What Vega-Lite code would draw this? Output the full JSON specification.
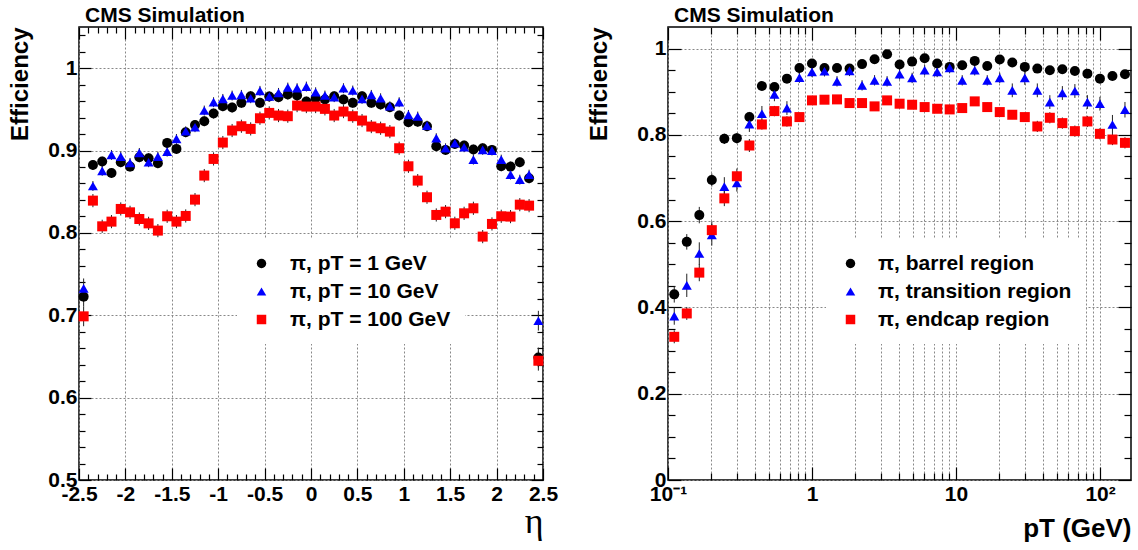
{
"$schema": "https://vega.github.io/schema/vega-lite/v6.json",
"padding": {"left": 8, "top": 4, "right": 5, "bottom": 5},
"background": "white",
"spacing": 125,
"bounds": "flush",
"resolve": {"scale": {"color": "independent", "shape": "independent"}, "legend": {"color": "independent", "shape": "independent"}},
"config": {
  "font": "Liberation Sans",
  "view": {"stroke": "black", "strokeWidth": 1.5},
  "axis": {"labelFont": "Liberation Sans", "labelFontWeight": "bold", "labelFontSize": 21, "labelColor": "black", "titleColor": "black", "domain": false, "gridColor": "#888", "gridDash": [2, 2], "gridWidth": 1, "gridOpacity": 1, "tickColor": "black", "tickWidth": 1.2, "labelOverlap": false, "labelFlush": false},
  "legend": {"labelFont": "Liberation Sans", "labelFontWeight": "bold", "labelFontSize": 21, "labelColor": "black", "labelLimit": 400}
},
"datasets": {
"eta": [
{"series":"π, pT = 1 GeV","eta":-2.45,"eff":0.7226,"err":0.012},
{"series":"π, pT = 1 GeV","eta":-2.35,"eff":0.8825,"err":0.006},
{"series":"π, pT = 1 GeV","eta":-2.25,"eff":0.8866,"err":0.006},
{"series":"π, pT = 1 GeV","eta":-2.15,"eff":0.8728,"err":0.006},
{"series":"π, pT = 1 GeV","eta":-2.05,"eff":0.8858,"err":0.006},
{"series":"π, pT = 1 GeV","eta":-1.95,"eff":0.8805,"err":0.006},
{"series":"π, pT = 1 GeV","eta":-1.85,"eff":0.8919,"err":0.006},
{"series":"π, pT = 1 GeV","eta":-1.75,"eff":0.8907,"err":0.006},
{"series":"π, pT = 1 GeV","eta":-1.65,"eff":0.8846,"err":0.006},
{"series":"π, pT = 1 GeV","eta":-1.55,"eff":0.9093,"err":0.006},
{"series":"π, pT = 1 GeV","eta":-1.45,"eff":0.902,"err":0.006},
{"series":"π, pT = 1 GeV","eta":-1.35,"eff":0.9222,"err":0.006},
{"series":"π, pT = 1 GeV","eta":-1.25,"eff":0.9311,"err":0.006},
{"series":"π, pT = 1 GeV","eta":-1.15,"eff":0.9356,"err":0.006},
{"series":"π, pT = 1 GeV","eta":-1.05,"eff":0.9449,"err":0.006},
{"series":"π, pT = 1 GeV","eta":-0.95,"eff":0.9538,"err":0.006},
{"series":"π, pT = 1 GeV","eta":-0.85,"eff":0.9522,"err":0.006},
{"series":"π, pT = 1 GeV","eta":-0.75,"eff":0.9579,"err":0.006},
{"series":"π, pT = 1 GeV","eta":-0.65,"eff":0.966,"err":0.006},
{"series":"π, pT = 1 GeV","eta":-0.55,"eff":0.9579,"err":0.006},
{"series":"π, pT = 1 GeV","eta":-0.45,"eff":0.9656,"err":0.006},
{"series":"π, pT = 1 GeV","eta":-0.35,"eff":0.9648,"err":0.006},
{"series":"π, pT = 1 GeV","eta":-0.25,"eff":0.968,"err":0.006},
{"series":"π, pT = 1 GeV","eta":-0.15,"eff":0.9668,"err":0.006},
{"series":"π, pT = 1 GeV","eta":-0.05,"eff":0.9595,"err":0.006},
{"series":"π, pT = 1 GeV","eta":0.05,"eff":0.9635,"err":0.006},
{"series":"π, pT = 1 GeV","eta":0.15,"eff":0.9619,"err":0.006},
{"series":"π, pT = 1 GeV","eta":0.25,"eff":0.966,"err":0.006},
{"series":"π, pT = 1 GeV","eta":0.35,"eff":0.9619,"err":0.006},
{"series":"π, pT = 1 GeV","eta":0.45,"eff":0.9579,"err":0.006},
{"series":"π, pT = 1 GeV","eta":0.55,"eff":0.966,"err":0.006},
{"series":"π, pT = 1 GeV","eta":0.65,"eff":0.9579,"err":0.006},
{"series":"π, pT = 1 GeV","eta":0.75,"eff":0.9559,"err":0.006},
{"series":"π, pT = 1 GeV","eta":0.85,"eff":0.9526,"err":0.006},
{"series":"π, pT = 1 GeV","eta":0.95,"eff":0.9425,"err":0.006},
{"series":"π, pT = 1 GeV","eta":1.05,"eff":0.9344,"err":0.006},
{"series":"π, pT = 1 GeV","eta":1.15,"eff":0.935,"err":0.006},
{"series":"π, pT = 1 GeV","eta":1.25,"eff":0.9295,"err":0.006},
{"series":"π, pT = 1 GeV","eta":1.35,"eff":0.9052,"err":0.006},
{"series":"π, pT = 1 GeV","eta":1.45,"eff":0.9008,"err":0.006},
{"series":"π, pT = 1 GeV","eta":1.55,"eff":0.908,"err":0.006},
{"series":"π, pT = 1 GeV","eta":1.65,"eff":0.906,"err":0.006},
{"series":"π, pT = 1 GeV","eta":1.75,"eff":0.9012,"err":0.006},
{"series":"π, pT = 1 GeV","eta":1.85,"eff":0.9028,"err":0.006},
{"series":"π, pT = 1 GeV","eta":1.95,"eff":0.9008,"err":0.006},
{"series":"π, pT = 1 GeV","eta":2.05,"eff":0.8809,"err":0.006},
{"series":"π, pT = 1 GeV","eta":2.15,"eff":0.8805,"err":0.006},
{"series":"π, pT = 1 GeV","eta":2.25,"eff":0.8858,"err":0.006},
{"series":"π, pT = 1 GeV","eta":2.35,"eff":0.8663,"err":0.006},
{"series":"π, pT = 1 GeV","eta":2.45,"eff":0.6488,"err":0.012},
{"series":"π, pT = 10 GeV","eta":-2.45,"eff":0.7327,"err":0.012},
{"series":"π, pT = 10 GeV","eta":-2.35,"eff":0.857,"err":0.006},
{"series":"π, pT = 10 GeV","eta":-2.25,"eff":0.8753,"err":0.006},
{"series":"π, pT = 10 GeV","eta":-2.15,"eff":0.8947,"err":0.006},
{"series":"π, pT = 10 GeV","eta":-2.05,"eff":0.8927,"err":0.006},
{"series":"π, pT = 10 GeV","eta":-1.95,"eff":0.885,"err":0.006},
{"series":"π, pT = 10 GeV","eta":-1.85,"eff":0.8971,"err":0.006},
{"series":"π, pT = 10 GeV","eta":-1.75,"eff":0.8858,"err":0.006},
{"series":"π, pT = 10 GeV","eta":-1.65,"eff":0.8927,"err":0.006},
{"series":"π, pT = 10 GeV","eta":-1.55,"eff":0.8987,"err":0.006},
{"series":"π, pT = 10 GeV","eta":-1.45,"eff":0.9141,"err":0.006},
{"series":"π, pT = 10 GeV","eta":-1.35,"eff":0.9234,"err":0.006},
{"series":"π, pT = 10 GeV","eta":-1.25,"eff":0.9283,"err":0.006},
{"series":"π, pT = 10 GeV","eta":-1.15,"eff":0.9486,"err":0.006},
{"series":"π, pT = 10 GeV","eta":-1.05,"eff":0.9587,"err":0.006},
{"series":"π, pT = 10 GeV","eta":-0.95,"eff":0.9627,"err":0.006},
{"series":"π, pT = 10 GeV","eta":-0.85,"eff":0.9668,"err":0.006},
{"series":"π, pT = 10 GeV","eta":-0.75,"eff":0.9676,"err":0.006},
{"series":"π, pT = 10 GeV","eta":-0.65,"eff":0.9635,"err":0.006},
{"series":"π, pT = 10 GeV","eta":-0.55,"eff":0.9725,"err":0.006},
{"series":"π, pT = 10 GeV","eta":-0.45,"eff":0.9656,"err":0.006},
{"series":"π, pT = 10 GeV","eta":-0.35,"eff":0.970,"err":0.006},
{"series":"π, pT = 10 GeV","eta":-0.25,"eff":0.9765,"err":0.006},
{"series":"π, pT = 10 GeV","eta":-0.15,"eff":0.9757,"err":0.006},
{"series":"π, pT = 10 GeV","eta":-0.05,"eff":0.9777,"err":0.006},
{"series":"π, pT = 10 GeV","eta":0.05,"eff":0.9708,"err":0.006},
{"series":"π, pT = 10 GeV","eta":0.15,"eff":0.9668,"err":0.006},
{"series":"π, pT = 10 GeV","eta":0.25,"eff":0.9648,"err":0.006},
{"series":"π, pT = 10 GeV","eta":0.35,"eff":0.9757,"err":0.006},
{"series":"π, pT = 10 GeV","eta":0.45,"eff":0.9729,"err":0.006},
{"series":"π, pT = 10 GeV","eta":0.55,"eff":0.9627,"err":0.006},
{"series":"π, pT = 10 GeV","eta":0.65,"eff":0.9676,"err":0.006},
{"series":"π, pT = 10 GeV","eta":0.75,"eff":0.9635,"err":0.006},
{"series":"π, pT = 10 GeV","eta":0.85,"eff":0.9538,"err":0.006},
{"series":"π, pT = 10 GeV","eta":0.95,"eff":0.9587,"err":0.006},
{"series":"π, pT = 10 GeV","eta":1.05,"eff":0.9433,"err":0.006},
{"series":"π, pT = 10 GeV","eta":1.15,"eff":0.9413,"err":0.006},
{"series":"π, pT = 10 GeV","eta":1.25,"eff":0.9303,"err":0.006},
{"series":"π, pT = 10 GeV","eta":1.35,"eff":0.915,"err":0.006},
{"series":"π, pT = 10 GeV","eta":1.45,"eff":0.9028,"err":0.006},
{"series":"π, pT = 10 GeV","eta":1.55,"eff":0.9089,"err":0.006},
{"series":"π, pT = 10 GeV","eta":1.65,"eff":0.904,"err":0.006},
{"series":"π, pT = 10 GeV","eta":1.75,"eff":0.889,"err":0.006},
{"series":"π, pT = 10 GeV","eta":1.85,"eff":0.9008,"err":0.006},
{"series":"π, pT = 10 GeV","eta":1.95,"eff":0.9,"err":0.006},
{"series":"π, pT = 10 GeV","eta":2.05,"eff":0.889,"err":0.006},
{"series":"π, pT = 10 GeV","eta":2.15,"eff":0.8708,"err":0.006},
{"series":"π, pT = 10 GeV","eta":2.25,"eff":0.8647,"err":0.006},
{"series":"π, pT = 10 GeV","eta":2.35,"eff":0.8708,"err":0.006},
{"series":"π, pT = 10 GeV","eta":2.45,"eff":0.6934,"err":0.012},
{"series":"π, pT = 100 GeV","eta":-2.45,"eff":0.6987,"err":0.012},
{"series":"π, pT = 100 GeV","eta":-2.35,"eff":0.8392,"err":0.008},
{"series":"π, pT = 100 GeV","eta":-2.25,"eff":0.808,"err":0.008},
{"series":"π, pT = 100 GeV","eta":-2.15,"eff":0.8137,"err":0.008},
{"series":"π, pT = 100 GeV","eta":-2.05,"eff":0.8291,"err":0.008},
{"series":"π, pT = 100 GeV","eta":-1.95,"eff":0.825,"err":0.008},
{"series":"π, pT = 100 GeV","eta":-1.85,"eff":0.8169,"err":0.008},
{"series":"π, pT = 100 GeV","eta":-1.75,"eff":0.8116,"err":0.008},
{"series":"π, pT = 100 GeV","eta":-1.65,"eff":0.8028,"err":0.008},
{"series":"π, pT = 100 GeV","eta":-1.55,"eff":0.8202,"err":0.008},
{"series":"π, pT = 100 GeV","eta":-1.45,"eff":0.8137,"err":0.008},
{"series":"π, pT = 100 GeV","eta":-1.35,"eff":0.8206,"err":0.008},
{"series":"π, pT = 100 GeV","eta":-1.25,"eff":0.8404,"err":0.008},
{"series":"π, pT = 100 GeV","eta":-1.15,"eff":0.8696,"err":0.008},
{"series":"π, pT = 100 GeV","eta":-1.05,"eff":0.8898,"err":0.008},
{"series":"π, pT = 100 GeV","eta":-0.95,"eff":0.9097,"err":0.008},
{"series":"π, pT = 100 GeV","eta":-0.85,"eff":0.9243,"err":0.008},
{"series":"π, pT = 100 GeV","eta":-0.75,"eff":0.9295,"err":0.008},
{"series":"π, pT = 100 GeV","eta":-0.65,"eff":0.9263,"err":0.008},
{"series":"π, pT = 100 GeV","eta":-0.55,"eff":0.9392,"err":0.008},
{"series":"π, pT = 100 GeV","eta":-0.45,"eff":0.9457,"err":0.008},
{"series":"π, pT = 100 GeV","eta":-0.35,"eff":0.9425,"err":0.008},
{"series":"π, pT = 100 GeV","eta":-0.25,"eff":0.9417,"err":0.008},
{"series":"π, pT = 100 GeV","eta":-0.15,"eff":0.9546,"err":0.008},
{"series":"π, pT = 100 GeV","eta":-0.05,"eff":0.9534,"err":0.008},
{"series":"π, pT = 100 GeV","eta":0.05,"eff":0.9534,"err":0.008},
{"series":"π, pT = 100 GeV","eta":0.15,"eff":0.9506,"err":0.008},
{"series":"π, pT = 100 GeV","eta":0.25,"eff":0.9425,"err":0.008},
{"series":"π, pT = 100 GeV","eta":0.35,"eff":0.9473,"err":0.008},
{"series":"π, pT = 100 GeV","eta":0.45,"eff":0.9417,"err":0.008},
{"series":"π, pT = 100 GeV","eta":0.55,"eff":0.9364,"err":0.008},
{"series":"π, pT = 100 GeV","eta":0.65,"eff":0.9291,"err":0.008},
{"series":"π, pT = 100 GeV","eta":0.75,"eff":0.9271,"err":0.008},
{"series":"π, pT = 100 GeV","eta":0.85,"eff":0.923,"err":0.008},
{"series":"π, pT = 100 GeV","eta":0.95,"eff":0.9028,"err":0.008},
{"series":"π, pT = 100 GeV","eta":1.05,"eff":0.8809,"err":0.008},
{"series":"π, pT = 100 GeV","eta":1.15,"eff":0.8635,"err":0.008},
{"series":"π, pT = 100 GeV","eta":1.25,"eff":0.8433,"err":0.008},
{"series":"π, pT = 100 GeV","eta":1.35,"eff":0.8218,"err":0.008},
{"series":"π, pT = 100 GeV","eta":1.45,"eff":0.8258,"err":0.008},
{"series":"π, pT = 100 GeV","eta":1.55,"eff":0.8117,"err":0.008},
{"series":"π, pT = 100 GeV","eta":1.65,"eff":0.8238,"err":0.008},
{"series":"π, pT = 100 GeV","eta":1.75,"eff":0.8299,"err":0.008},
{"series":"π, pT = 100 GeV","eta":1.85,"eff":0.7955,"err":0.008},
{"series":"π, pT = 100 GeV","eta":1.95,"eff":0.8109,"err":0.008},
{"series":"π, pT = 100 GeV","eta":2.05,"eff":0.8202,"err":0.008},
{"series":"π, pT = 100 GeV","eta":2.15,"eff":0.8198,"err":0.008},
{"series":"π, pT = 100 GeV","eta":2.25,"eff":0.8343,"err":0.008},
{"series":"π, pT = 100 GeV","eta":2.35,"eff":0.8331,"err":0.008},
{"series":"π, pT = 100 GeV","eta":2.45,"eff":0.6448,"err":0.012}
],
"pt": [
{"series":"π, barrel region","pt":0.11052,"eff":0.4303,"err":0.019},
{"series":"π, barrel region","pt":0.13501,"eff":0.552,"err":0.018},
{"series":"π, barrel region","pt":0.16493,"eff":0.614,"err":0.019},
{"series":"π, barrel region","pt":0.20148,"eff":0.6954,"err":0.015},
{"series":"π, barrel region","pt":0.24613,"eff":0.7908,"err":0.012},
{"series":"π, barrel region","pt":0.30067,"eff":0.7924,"err":0.012},
{"series":"π, barrel region","pt":0.3673,"eff":0.8412,"err":0.012},
{"series":"π, barrel region","pt":0.44869,"eff":0.9133,"err":0.008},
{"series":"π, barrel region","pt":0.54812,"eff":0.9109,"err":0.008},
{"series":"π, barrel region","pt":0.66958,"eff":0.9303,"err":0.008},
{"series":"π, barrel region","pt":0.81796,"eff":0.9551,"err":0.008},
{"series":"π, barrel region","pt":0.99922,"eff":0.9652,"err":0.008},
{"series":"π, barrel region","pt":1.2206,"eff":0.9551,"err":0.008},
{"series":"π, barrel region","pt":1.4911,"eff":0.9551,"err":0.008},
{"series":"π, barrel region","pt":1.8216,"eff":0.9536,"err":0.008},
{"series":"π, barrel region","pt":2.2252,"eff":0.964,"err":0.008},
{"series":"π, barrel region","pt":2.7184,"eff":0.9753,"err":0.008},
{"series":"π, barrel region","pt":3.3208,"eff":0.9869,"err":0.008},
{"series":"π, barrel region","pt":4.0566,"eff":0.9629,"err":0.008},
{"series":"π, barrel region","pt":4.9556,"eff":0.9698,"err":0.008},
{"series":"π, barrel region","pt":6.0538,"eff":0.9775,"err":0.008},
{"series":"π, barrel region","pt":7.3953,"eff":0.9652,"err":0.008},
{"series":"π, barrel region","pt":9.0341,"eff":0.9575,"err":0.008},
{"series":"π, barrel region","pt":11.036,"eff":0.9613,"err":0.008},
{"series":"π, barrel region","pt":13.482,"eff":0.9714,"err":0.008},
{"series":"π, barrel region","pt":16.469,"eff":0.9598,"err":0.008},
{"series":"π, barrel region","pt":20.119,"eff":0.9745,"err":0.008},
{"series":"π, barrel region","pt":24.577,"eff":0.9676,"err":0.008},
{"series":"π, barrel region","pt":30.023,"eff":0.9575,"err":0.008},
{"series":"π, barrel region","pt":36.677,"eff":0.9536,"err":0.008},
{"series":"π, barrel region","pt":44.804,"eff":0.9497,"err":0.008},
{"series":"π, barrel region","pt":54.733,"eff":0.952,"err":0.008},
{"series":"π, barrel region","pt":66.861,"eff":0.9482,"err":0.008},
{"series":"π, barrel region","pt":81.678,"eff":0.9419,"err":0.01},
{"series":"π, barrel region","pt":99.778,"eff":0.9303,"err":0.01},
{"series":"π, barrel region","pt":121.89,"eff":0.9365,"err":0.01},
{"series":"π, barrel region","pt":148.9,"eff":0.9404,"err":0.01},
{"series":"π, transition region","pt":0.11052,"eff":0.3799,"err":0.02},
{"series":"π, transition region","pt":0.13501,"eff":0.4512,"err":0.027},
{"series":"π, transition region","pt":0.16493,"eff":0.5249,"err":0.026},
{"series":"π, transition region","pt":0.20148,"eff":0.5683,"err":0.025},
{"series":"π, transition region","pt":0.24613,"eff":0.6799,"err":0.022},
{"series":"π, transition region","pt":0.30067,"eff":0.6885,"err":0.02},
{"series":"π, transition region","pt":0.3673,"eff":0.8248,"err":0.018},
{"series":"π, transition region","pt":0.44869,"eff":0.8489,"err":0.018},
{"series":"π, transition region","pt":0.54812,"eff":0.8939,"err":0.016},
{"series":"π, transition region","pt":0.66958,"eff":0.8621,"err":0.016},
{"series":"π, transition region","pt":0.81796,"eff":0.9326,"err":0.012},
{"series":"π, transition region","pt":0.99922,"eff":0.9458,"err":0.012},
{"series":"π, transition region","pt":1.2206,"eff":0.9474,"err":0.012},
{"series":"π, transition region","pt":1.4911,"eff":0.9241,"err":0.012},
{"series":"π, transition region","pt":1.8216,"eff":0.9482,"err":0.012},
{"series":"π, transition region","pt":2.2252,"eff":0.9148,"err":0.012},
{"series":"π, transition region","pt":2.7184,"eff":0.9264,"err":0.012},
{"series":"π, transition region","pt":3.3208,"eff":0.9241,"err":0.012},
{"series":"π, transition region","pt":4.0566,"eff":0.9404,"err":0.012},
{"series":"π, transition region","pt":4.9556,"eff":0.9319,"err":0.012},
{"series":"π, transition region","pt":6.0538,"eff":0.9497,"err":0.012},
{"series":"π, transition region","pt":7.3953,"eff":0.9458,"err":0.012},
{"series":"π, transition region","pt":9.0341,"eff":0.9551,"err":0.012},
{"series":"π, transition region","pt":11.036,"eff":0.9264,"err":0.012},
{"series":"π, transition region","pt":13.482,"eff":0.9497,"err":0.012},
{"series":"π, transition region","pt":16.469,"eff":0.9264,"err":0.012},
{"series":"π, transition region","pt":20.119,"eff":0.9319,"err":0.012},
{"series":"π, transition region","pt":24.577,"eff":0.9032,"err":0.016},
{"series":"π, transition region","pt":30.023,"eff":0.9319,"err":0.016},
{"series":"π, transition region","pt":36.677,"eff":0.9032,"err":0.016},
{"series":"π, transition region","pt":44.804,"eff":0.876,"err":0.016},
{"series":"π, transition region","pt":54.733,"eff":0.897,"err":0.016},
{"series":"π, transition region","pt":66.861,"eff":0.9017,"err":0.016},
{"series":"π, transition region","pt":81.678,"eff":0.876,"err":0.016},
{"series":"π, transition region","pt":99.778,"eff":0.8722,"err":0.016},
{"series":"π, transition region","pt":121.89,"eff":0.8241,"err":0.022},
{"series":"π, transition region","pt":148.9,"eff":0.8582,"err":0.018},
{"series":"π, endcap region","pt":0.11052,"eff":0.3319,"err":0.015},
{"series":"π, endcap region","pt":0.13501,"eff":0.3861,"err":0.015},
{"series":"π, endcap region","pt":0.16493,"eff":0.4807,"err":0.02},
{"series":"π, endcap region","pt":0.20148,"eff":0.5791,"err":0.02},
{"series":"π, endcap region","pt":0.24613,"eff":0.6528,"err":0.018},
{"series":"π, endcap region","pt":0.30067,"eff":0.704,"err":0.018},
{"series":"π, endcap region","pt":0.3673,"eff":0.7753,"err":0.015},
{"series":"π, endcap region","pt":0.44869,"eff":0.8241,"err":0.012},
{"series":"π, endcap region","pt":0.54812,"eff":0.8551,"err":0.012},
{"series":"π, endcap region","pt":0.66958,"eff":0.8311,"err":0.012},
{"series":"π, endcap region","pt":0.81796,"eff":0.8412,"err":0.01},
{"series":"π, endcap region","pt":0.99922,"eff":0.8799,"err":0.01},
{"series":"π, endcap region","pt":1.2206,"eff":0.8815,"err":0.01},
{"series":"π, endcap region","pt":1.4911,"eff":0.8822,"err":0.01},
{"series":"π, endcap region","pt":1.8216,"eff":0.8737,"err":0.01},
{"series":"π, endcap region","pt":2.2252,"eff":0.8737,"err":0.01},
{"series":"π, endcap region","pt":2.7184,"eff":0.866,"err":0.01},
{"series":"π, endcap region","pt":3.3208,"eff":0.8799,"err":0.01},
{"series":"π, endcap region","pt":4.0566,"eff":0.8722,"err":0.01},
{"series":"π, endcap region","pt":4.9556,"eff":0.8698,"err":0.01},
{"series":"π, endcap region","pt":6.0538,"eff":0.8644,"err":0.01},
{"series":"π, endcap region","pt":7.3953,"eff":0.8605,"err":0.01},
{"series":"π, endcap region","pt":9.0341,"eff":0.859,"err":0.01},
{"series":"π, endcap region","pt":11.036,"eff":0.8621,"err":0.01},
{"series":"π, endcap region","pt":13.482,"eff":0.8776,"err":0.01},
{"series":"π, endcap region","pt":16.469,"eff":0.8644,"err":0.01},
{"series":"π, endcap region","pt":20.119,"eff":0.8528,"err":0.01},
{"series":"π, endcap region","pt":24.577,"eff":0.8466,"err":0.01},
{"series":"π, endcap region","pt":30.023,"eff":0.8412,"err":0.01},
{"series":"π, endcap region","pt":36.677,"eff":0.8195,"err":0.013},
{"series":"π, endcap region","pt":44.804,"eff":0.8396,"err":0.013},
{"series":"π, endcap region","pt":54.733,"eff":0.8272,"err":0.013},
{"series":"π, endcap region","pt":66.861,"eff":0.8086,"err":0.013},
{"series":"π, endcap region","pt":81.678,"eff":0.8311,"err":0.013},
{"series":"π, endcap region","pt":99.778,"eff":0.8024,"err":0.013},
{"series":"π, endcap region","pt":121.89,"eff":0.7892,"err":0.013},
{"series":"π, endcap region","pt":148.9,"eff":0.7815,"err":0.013}
]
},
"hconcat": [
{
  "width": 464, "height": 453,
  "data": {"name": "eta"},
  "title": {"text": "CMS Simulation", "anchor": "start", "frame": "group", "font": "Liberation Sans", "fontSize": 21, "fontWeight": "bold", "color": "black", "offset": -17, "baseline": "alphabetic", "dx": 6},
  "resolve": {"axis": {"x": "independent", "y": "independent"}},
  "layer": [
    {
      "mark": {"type": "errorbar", "ticks": false, "color": "#222", "thickness": 1},
      "encoding": {
        "x": {"field": "eta", "type": "quantitative", "scale": {"domain": [-2.5, 2.5], "nice": false, "zero": false}, "axis": null},
        "y": {"field": "eff", "type": "quantitative", "scale": {"domain": [0.5, 1.05], "nice": false, "zero": false}, "axis": null},
        "yError": {"field": "err"}
      }
    },
    {
      "mark": {"type": "point", "filled": true, "opacity": 1, "size": 100},
      "encoding": {
        "x": {"field": "eta", "type": "quantitative", "axis": {"orient": "bottom", "values": [-2.5,-2,-1.5,-1,-0.5,0,0.5,1,1.5,2,2.5], "ticks": false, "grid": true, "labelExpr": "'' + datum.value", "labelPadding": 3, "title": "η", "titleFont": "Liberation Serif", "titleFontSize": 36, "titleFontWeight": "normal", "titleAnchor": "end", "titlePadding": 0}},
        "y": {"field": "eff", "type": "quantitative", "axis": {"orient": "left", "values": [0.5,0.6,0.7,0.8,0.9,1], "ticks": false, "grid": true, "labelExpr": "'' + datum.value", "labelPadding": 2, "title": "Efficiency", "titleFont": "Liberation Sans", "titleFontSize": 24, "titleFontWeight": "bold", "titleAnchor": "end", "titlePadding": 15}},
        "color": {"field": "series", "type": "nominal", "scale": {"domain": ["π, pT = 1 GeV", "π, pT = 10 GeV", "π, pT = 100 GeV"], "range": ["#000000", "#0000ff", "#ff0000"]}, "legend": {"orient": "none", "legendX": 158, "legendY": 212, "title": null, "symbolSize": 90, "labelOffset": 18, "rowPadding": 6, "fillColor": "white", "padding": 14}},
        "shape": {"field": "series", "type": "nominal", "scale": {"domain": ["π, pT = 1 GeV", "π, pT = 10 GeV", "π, pT = 100 GeV"], "range": ["circle", "triangle-up", "square"]}, "legend": {"orient": "none", "legendX": 158, "legendY": 212, "title": null, "symbolSize": 90, "labelOffset": 18, "rowPadding": 6, "fillColor": "white", "padding": 14}}
      }
    },
    {
      "mark": {"type": "point", "opacity": 0},
      "encoding": {
        "x": {"field": "eta", "type": "quantitative", "axis": {"orient": "bottom", "values": [-2.5,-2,-1.5,-1,-0.5,0,0.5,1,1.5,2,2.5], "labels": false, "grid": false, "tickSize": -12, "title": null}},
        "y": {"field": "eff", "type": "quantitative", "axis": {"orient": "left", "values": [0.5,0.6,0.7,0.8,0.9,1], "labels": false, "grid": false, "tickSize": -12, "title": null}}
      }
    },
    {
      "mark": {"type": "point", "opacity": 0},
      "encoding": {
        "x": {"field": "eta", "type": "quantitative", "axis": {"orient": "bottom", "offset": -453, "values": [-2.5,-2,-1.5,-1,-0.5,0,0.5,1,1.5,2,2.5], "labels": false, "grid": false, "tickSize": 12, "title": null}},
        "y": {"field": "eff", "type": "quantitative", "axis": {"orient": "left", "offset": -464, "values": [0.5,0.6,0.7,0.8,0.9,1], "labels": false, "grid": false, "tickSize": 12, "title": null}}
      }
    },
    {
      "mark": {"type": "point", "opacity": 0},
      "encoding": {
        "x": {"field": "eta", "type": "quantitative", "axis": {"orient": "bottom", "values": [-2.4,-2.3,-2.2,-2.1,-1.9,-1.8,-1.7,-1.6,-1.4,-1.3,-1.2,-1.1,-0.9,-0.8,-0.7,-0.6,-0.4,-0.3,-0.2,-0.1,0.1,0.2,0.3,0.4,0.6,0.7,0.8,0.9,1.1,1.2,1.3,1.4,1.6,1.7,1.8,1.9,2.1,2.2,2.3,2.4], "labels": false, "grid": false, "tickSize": -6, "title": null}},
        "y": {"field": "eff", "type": "quantitative", "axis": {"orient": "left", "values": [0.52,0.54,0.56,0.58,0.62,0.64,0.66,0.68,0.72,0.74,0.76,0.78,0.82,0.84,0.86,0.88,0.92,0.94,0.96,0.98,1.02,1.04], "labels": false, "grid": false, "tickSize": -6, "title": null}}
      }
    },
    {
      "mark": {"type": "point", "opacity": 0},
      "encoding": {
        "x": {"field": "eta", "type": "quantitative", "axis": {"orient": "bottom", "offset": -453, "values": [-2.4,-2.3,-2.2,-2.1,-1.9,-1.8,-1.7,-1.6,-1.4,-1.3,-1.2,-1.1,-0.9,-0.8,-0.7,-0.6,-0.4,-0.3,-0.2,-0.1,0.1,0.2,0.3,0.4,0.6,0.7,0.8,0.9,1.1,1.2,1.3,1.4,1.6,1.7,1.8,1.9,2.1,2.2,2.3,2.4], "labels": false, "grid": false, "tickSize": 6, "title": null}},
        "y": {"field": "eff", "type": "quantitative", "axis": {"orient": "left", "offset": -464, "values": [0.52,0.54,0.56,0.58,0.62,0.64,0.66,0.68,0.72,0.74,0.76,0.78,0.82,0.84,0.86,0.88,0.92,0.94,0.96,0.98,1.02,1.04], "labels": false, "grid": false, "tickSize": 6, "title": null}}
      }
    }
  ]
},
{
  "width": 463, "height": 453,
  "data": {"name": "pt"},
  "title": {"text": "CMS Simulation", "anchor": "start", "frame": "group", "font": "Liberation Sans", "fontSize": 21, "fontWeight": "bold", "color": "black", "offset": -17, "baseline": "alphabetic", "dx": 6},
  "resolve": {"axis": {"x": "independent", "y": "independent"}},
  "layer": [
    {
      "mark": {"type": "errorbar", "ticks": false, "color": "#222", "thickness": 1},
      "encoding": {
        "x": {"field": "pt", "type": "quantitative", "scale": {"type": "log", "domain": [0.1, 164], "nice": false}, "axis": null},
        "y": {"field": "eff", "type": "quantitative", "scale": {"domain": [0, 1.05], "nice": false, "zero": false}, "axis": null},
        "yError": {"field": "err"}
      }
    },
    {
      "mark": {"type": "point", "filled": true, "opacity": 1, "size": 100},
      "encoding": {
        "x": {"field": "pt", "type": "quantitative", "axis": {"orient": "bottom", "values": [0.1, 1, 10, 100], "ticks": false, "grid": true, "labelExpr": "datum.value < 0.5 ? '10⁻¹' : datum.value > 50 ? '10²' : '' + datum.value", "labelPadding": 3, "title": "pT (GeV)", "titleFont": "Liberation Sans", "titleFontSize": 26, "titleFontWeight": "bold", "titleAnchor": "end", "titlePadding": 11}},
        "y": {"field": "eff", "type": "quantitative", "axis": {"orient": "left", "values": [0, 0.2, 0.4, 0.6, 0.8, 1], "ticks": false, "grid": true, "labelExpr": "'' + datum.value", "labelPadding": 2, "title": "Efficiency", "titleFont": "Liberation Sans", "titleFontSize": 24, "titleFontWeight": "bold", "titleAnchor": "end", "titlePadding": 25}},
        "color": {"field": "series", "type": "nominal", "scale": {"domain": ["π, barrel region", "π, transition region", "π, endcap region"], "range": ["#000000", "#0000ff", "#ff0000"]}, "legend": {"orient": "none", "legendX": 158, "legendY": 212, "title": null, "symbolSize": 90, "labelOffset": 17, "rowPadding": 6, "fillColor": "white", "padding": 14}},
        "shape": {"field": "series", "type": "nominal", "scale": {"domain": ["π, barrel region", "π, transition region", "π, endcap region"], "range": ["circle", "triangle-up", "square"]}, "legend": {"orient": "none", "legendX": 158, "legendY": 212, "title": null, "symbolSize": 90, "labelOffset": 17, "rowPadding": 6, "fillColor": "white", "padding": 14}}
      }
    },
    {
      "mark": {"type": "point", "opacity": 0},
      "encoding": {
        "x": {"field": "pt", "type": "quantitative", "axis": {"orient": "bottom", "values": [0.1, 1, 10, 100], "labels": false, "grid": false, "tickSize": -13, "title": null}},
        "y": {"field": "eff", "type": "quantitative", "axis": {"orient": "left", "values": [0, 0.2, 0.4, 0.6, 0.8, 1], "labels": false, "grid": false, "tickSize": -13, "title": null}}
      }
    },
    {
      "mark": {"type": "point", "opacity": 0},
      "encoding": {
        "x": {"field": "pt", "type": "quantitative", "axis": {"orient": "bottom", "offset": -453, "values": [0.1, 1, 10, 100], "labels": false, "grid": false, "tickSize": 13, "title": null}},
        "y": {"field": "eff", "type": "quantitative", "axis": {"orient": "left", "offset": -463, "values": [0, 0.2, 0.4, 0.6, 0.8, 1], "labels": false, "grid": false, "tickSize": 13, "title": null}}
      }
    },
    {
      "mark": {"type": "point", "opacity": 0},
      "encoding": {
        "x": {"field": "pt", "type": "quantitative", "axis": {"orient": "bottom", "values": [0.2,0.3,0.4,0.5,0.6,0.7,0.8,0.9,2,3,4,5,6,7,8,9,20,30,40,50,60,70,80,90], "labels": false, "grid": true, "tickSize": -7, "title": null}},
        "y": {"field": "eff", "type": "quantitative", "axis": {"orient": "left", "values": [0.05,0.1,0.15,0.25,0.3,0.35,0.45,0.5,0.55,0.65,0.7,0.75,0.85,0.9,0.95], "labels": false, "grid": false, "tickSize": -7, "title": null}}
      }
    },
    {
      "mark": {"type": "point", "opacity": 0},
      "encoding": {
        "x": {"field": "pt", "type": "quantitative", "axis": {"orient": "bottom", "offset": -453, "values": [0.2,0.3,0.4,0.5,0.6,0.7,0.8,0.9,2,3,4,5,6,7,8,9,20,30,40,50,60,70,80,90], "labels": false, "grid": false, "tickSize": 7, "title": null}},
        "y": {"field": "eff", "type": "quantitative", "axis": {"orient": "left", "offset": -463, "values": [0.05,0.1,0.15,0.25,0.3,0.35,0.45,0.5,0.55,0.65,0.7,0.75,0.85,0.9,0.95], "labels": false, "grid": false, "tickSize": 7, "title": null}}
      }
    }
  ]
}
]
}
